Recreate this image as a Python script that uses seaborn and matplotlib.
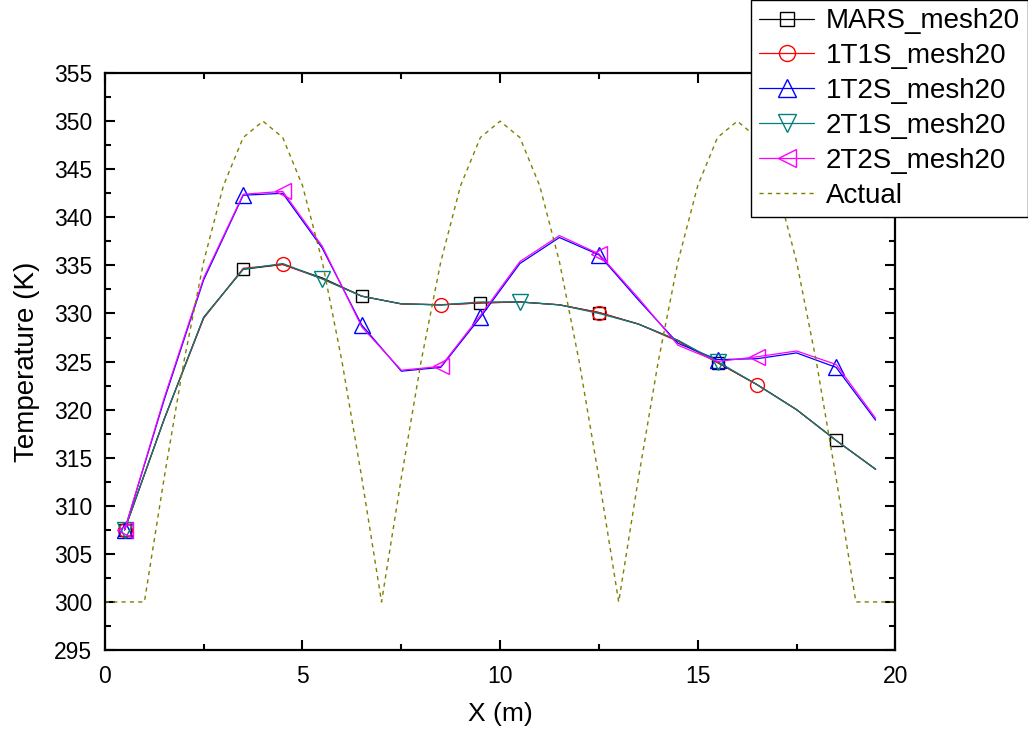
import matplotlib
matplotlib.use("Agg")
import matplotlib.pyplot as plt
import seaborn as sns
from matplotlib.ticker import MultipleLocator

# cell centres (m)
x = [0.5, 1.5, 2.5, 3.5, 4.5, 5.5, 6.5, 7.5, 8.5, 9.5,
     10.5, 11.5, 12.5, 13.5, 14.5, 15.5, 16.5, 17.5, 18.5, 19.5]

mars = [307.5, 319.0, 329.6, 334.6, 335.1, 333.7, 331.8, 331.0, 330.9, 331.1,
        331.2, 330.9, 330.1, 328.9, 327.2, 324.9, 322.6, 320.0, 316.8, 313.8]
t1s1 = [307.5, 319.0, 329.5, 334.7, 335.1, 333.6, 331.8, 331.0, 330.9, 331.1,
        331.2, 330.9, 330.1, 328.9, 327.1, 324.9, 322.6, 320.0, 316.8, 313.8]
t1s2 = [307.5, 321.0, 333.5, 342.3, 342.5, 336.8, 328.8, 324.0, 324.4, 329.6,
        335.2, 337.9, 336.1, 331.4, 326.9, 325.2, 325.3, 325.9, 324.4, 318.9]
t2s1 = [307.5, 319.0, 329.6, 334.6, 335.2, 333.6, 331.8, 331.0, 330.9, 331.2,
        331.2, 330.9, 330.0, 328.9, 327.2, 325.0, 322.6, 320.0, 316.8, 313.8]
t2s2 = [307.5, 321.2, 333.7, 342.4, 342.7, 337.0, 328.6, 324.1, 324.5, 329.8,
        335.4, 338.1, 336.2, 331.6, 326.7, 325.0, 325.5, 326.1, 324.7, 319.1]

# reference profile
x_act = [0.0, 1.0, 1.5, 2.0, 2.5, 3.0, 3.5, 4.0, 4.5, 5.0, 5.5, 6.0, 6.5, 7.0,
         7.5, 8.0, 8.5, 9.0, 9.5, 10.0, 10.5, 11.0, 11.5, 12.0, 12.5, 13.0,
         13.5, 14.0, 14.5, 15.0, 15.5, 16.0, 16.5, 17.0, 17.5, 18.0, 18.5, 19.0, 20.0]
y_act = [300.0, 300.0, 312.9, 325.0, 335.4, 343.3, 348.3, 350.0, 348.3, 343.3,
         335.4, 325.0, 312.9, 300.0, 312.9, 325.0, 335.4, 343.3, 348.3, 350.0,
         348.3, 343.3, 335.4, 325.0, 312.9, 300.0, 312.9, 325.0, 335.4, 343.3,
         348.3, 350.0, 348.3, 343.3, 335.4, 325.0, 312.9, 300.0, 300.0]

sns.set_style("ticks")
plt.rcParams['font.family'] = ['Liberation Sans', 'DejaVu Sans']
plt.rcParams['text.color'] = 'black'
plt.rcParams['axes.labelcolor'] = 'black'
plt.rcParams['xtick.color'] = 'black'
plt.rcParams['ytick.color'] = 'black'

fig = plt.figure(figsize=(10.28, 7.34), dpi=100)
ax = fig.add_axes([0.102, 0.1144, 0.769, 0.786])

series = [
    (mars, "MARS_mesh20", "black", "s", 3, 9),
    (t1s1, "1T1S_mesh20", "red", "o", 4, 10),
    (t1s2, "1T2S_mesh20", "blue", "^", 3, 11),
    (t2s1, "2T1S_mesh20", "#008080", "v", 5, 11),
    (t2s2, "2T2S_mesh20", "magenta", "<", 4, 11),
]
for ys, name, col, mk, every, ms in series:
    sns.lineplot(x=x, y=ys, ax=ax, color=col, linewidth=0.9, marker=mk,
                 markevery=every, markersize=ms, markerfacecolor="none",
                 markeredgecolor=col, markeredgewidth=1.0, label=name)

sns.lineplot(x=x_act, y=y_act, ax=ax, color="#808000", linewidth=1.0,
             linestyle=(0, (3, 3)), label="Actual")

ax.set_xlim(0, 20)
ax.set_ylim(295, 355)
ax.xaxis.set_major_locator(MultipleLocator(5))
ax.xaxis.set_minor_locator(MultipleLocator(2.5))
ax.yaxis.set_major_locator(MultipleLocator(5))
ax.yaxis.set_minor_locator(MultipleLocator(2.5))
ax.tick_params(which="both", direction="in", top=True, right=True, width=1.5,
               color="black")
ax.tick_params(which="major", length=7)
ax.tick_params(which="minor", length=4)
ax.tick_params(axis="x", which="major", labelsize=16.5, pad=11)
ax.tick_params(axis="y", which="major", labelsize=16.5, pad=9)
for sp in ax.spines.values():
    sp.set_linewidth(1.6)
    sp.set_color("black")
    sp.set_visible(True)

ax.set_xlabel("X (m)", fontsize=19, labelpad=10)
ax.set_ylabel("Temperature (K)", fontsize=20, labelpad=10)

handles, labels = ax.get_legend_handles_labels()
leg = ax.legend(handles, labels, loc="upper right", bbox_to_anchor=(1.0, 1.0),
                bbox_transform=fig.transFigure, fontsize=20, frameon=True,
                fancybox=False, framealpha=1, edgecolor="black",
                handlelength=2.0, handletextpad=0.4, labelspacing=0.32,
                borderpad=0.3, borderaxespad=0.0, markerscale=1.15)
leg.get_frame().set_linewidth(1.0)

fig.savefig("out.png", dpi=100)
